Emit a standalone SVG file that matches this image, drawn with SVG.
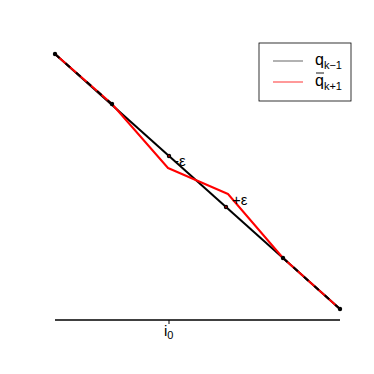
<svg xmlns="http://www.w3.org/2000/svg" width="374" height="374" viewBox="0 0 374 374">
<style>
text{font-family:"Liberation Sans",Arial,sans-serif;fill:#000}
.blk{stroke:#000;stroke-width:2;fill:none}
.red{stroke:#f00;stroke-width:2;fill:none;stroke-linejoin:round}
.dot{fill:#000}
</style>
<rect width="374" height="374" fill="#fff"/>
<g id="connectors">
<polyline class="blk" points="55,54 340,309"/>
<polyline class="red" points="55,54 112,104 168,168 228,194 283,258 340,309"/>
<polyline points="55,54 112,104" stroke="#000" stroke-width="2" stroke-dasharray="6,8" fill="none"/>
<polyline points="283,258 340,309" stroke="#000" stroke-width="2" stroke-dasharray="6,8" fill="none"/>
</g>
<g id="points">
<circle class="dot" cx="55" cy="54" r="2.2"/>
<circle class="dot" cx="112" cy="104" r="2.2"/>
<circle class="dot" cx="169" cy="156" r="2.2"/>
<circle class="dot" cx="226" cy="207" r="2.2"/>
<circle class="dot" cx="283" cy="258" r="2.2"/>
<circle class="dot" cx="340" cy="309" r="2.2"/>
<circle cx="169" cy="156" r="0.8" fill="#f00"/>
<circle cx="226" cy="207" r="0.8" fill="#f00"/>
</g>
<g id="labels">
<text x="174" y="166" font-size="15">-ε</text>
<text x="232" y="205" font-size="15">+ε</text>
</g>
<g id="axis">
<line x1="55" y1="320" x2="340" y2="320" stroke="#000" stroke-width="1.3"/>
<line x1="169" y1="320" x2="169" y2="324" stroke="#000" stroke-width="1"/>
<text x="164" y="336" font-size="15">i<tspan font-size="11" dy="3">0</tspan></text>
</g>
<g id="legend">
<rect x="259" y="43" width="92" height="58" fill="#fff" stroke="#000" stroke-width="0.8"/>
<line x1="273" y1="61" x2="303" y2="61" stroke="#999" stroke-width="1.5"/>
<line x1="273" y1="82" x2="303" y2="82" stroke="#f77" stroke-width="1.5"/>
<text x="315" y="65" font-size="16">q<tspan font-size="11" dy="4">k−1</tspan></text>
<text x="315" y="86" font-size="16">q<tspan font-size="11" dy="4">k+1</tspan></text>
<line x1="316" y1="73" x2="324" y2="73" stroke="#000" stroke-width="0.9"/>
</g>
</svg>
